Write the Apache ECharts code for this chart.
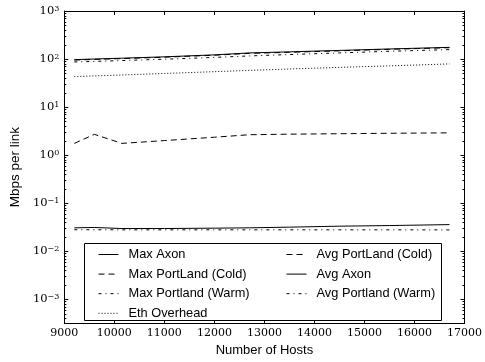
<!DOCTYPE html>
<html>
<head>
<meta charset="utf-8">
<script src="https://cdn.jsdelivr.net/npm/echarts@6/dist/echarts.min.js"></script>
<style>html,body{margin:0;padding:0;background:#fff}#c{width:485px;height:362px}</style>
</head>
<body>
<div id="c"></div>
<script>
var hosts = [9200, 9600, 10150, 11000, 12000, 12700, 13500, 14500, 15500, 16700];
var maxAxon = [97, 100, 104, 111, 122, 134, 141, 151, 162, 175];
var avgPortlandCold = [95, 98, 102, 109, 120, 131, 138, 148, 159, 172];
var maxPortlandWarm = [87, 89, 93, 99, 108, 116, 124, 134, 145, 157];
var ethOverhead = [43, 44.5, 46.5, 50, 54.5, 58, 62, 67, 72, 79];
var maxPortlandCold = [1.75, 2.7, 1.75, 2.0, 2.35, 2.65, 2.72, 2.78, 2.84, 2.9];
var avgAxon = [0.0305, 0.031, 0.0295, 0.0295, 0.030, 0.0305, 0.0315, 0.033, 0.034, 0.0356];
var avgPortlandWarm = [0.0279, 0.0278, 0.0277, 0.0277, 0.0277, 0.0277, 0.0277, 0.0277, 0.0277, 0.0276];
var minorTickValues = [];
for (var k = -4; k <= 2; k++) for (var m = 2; m <= 9; m++) {
  var v = m * Math.pow(10, k);
  if (v > Math.pow(10, -3.5) && v < 1000) minorTickValues.push(v);
}

function pairs(ys) { return hosts.map(function (x, i) { return [x, ys[i]]; }); }

var SERIF = 'DejaVu Serif';
var SANS = 'Liberation Sans';

function logLabel(v) {
  var e = Math.log10(v);
  if (Math.abs(e - Math.round(e)) > 1e-6) return '';
  e = Math.round(e);
  return '{b|10}{s|' + (e < 0 ? '\u2212' + (-e) : e) + '}';
}

function line(name, data, type, z) {
  return {
    name: name, type: 'line', data: pairs(data), symbol: 'none', z: z || 2,
    lineStyle: { color: '#000', width: 1, type: type },
    itemStyle: { color: '#000' },
    emphasis: { disabled: true }, animation: false
  };
}

var legendCommon = {
  orient: 'vertical', top: 243, itemWidth: 20, itemHeight: 12, itemGap: 6.6, z: 5,
  textStyle: { fontFamily: SANS, fontSize: 12.8, color: '#000', padding: [0, 0, 0, 5] },
  itemStyle: { color: 'rgba(0,0,0,0)', borderWidth: 0, opacity: 0 },
  lineStyle: { width: 1 },
  selectedMode: false
};

var chart = echarts.init(document.getElementById('c'));
var yCommon = {
  type: 'log', min: Math.pow(10, -3.5), max: 1000, logBase: 10,
  axisLine: { show: true, lineStyle: { color: '#000', width: 1 } },
  axisTick: { show: true, inside: true, length: 4, lineStyle: { color: '#000' } },
  splitLine: { show: false }
};
chart.setOption({
  animation: false,
  grid: { left: 59, right: 17, top: 11, bottom: 35 },
  xAxis: [{
    type: 'value', min: 9000, max: 17000, interval: 1000,
    name: 'Number of Hosts', nameLocation: 'middle', nameGap: 19,
    nameTextStyle: { fontFamily: SANS, fontSize: 13, color: '#000' },
    axisLine: { lineStyle: { color: '#000', width: 1 } },
    axisTick: { inside: true, length: 4, lineStyle: { color: '#000' } },
    axisLabel: { fontFamily: SERIF, fontSize: 11, color: '#000', margin: 5,
      formatter: function (v) { return String(v); } },
    splitLine: { show: false }
  }, {
    type: 'value', min: 9000, max: 17000, interval: 1000, position: 'top',
    axisLine: { lineStyle: { color: '#000', width: 1 } },
    axisTick: { inside: true, length: 4, lineStyle: { color: '#000' } },
    axisLabel: { show: false }, splitLine: { show: false }
  }],
  yAxis: [Object.assign({}, yCommon, {
    name: 'Mbps per link', nameLocation: 'middle', nameGap: 38,
    nameTextStyle: { fontFamily: SANS, fontSize: 13.5, color: '#000' },
    axisLabel: {
      margin: 5, formatter: logLabel,
      rich: {
        b: { fontFamily: SERIF, fontSize: 11.5, color: '#000' },
        s: { fontFamily: SERIF, fontSize: 8, color: '#000', verticalAlign: 'top', padding: [0, 0, 5, 0] }
      }
    }
  }), Object.assign({}, yCommon, { position: 'right', axisLabel: { show: false } })],
  legend: [Object.assign({}, legendCommon, {
    left: 93,
    data: ['Max Axon', 'Max PortLand (Cold)', 'Max Portland (Warm)', 'Eth Overhead']
  }), Object.assign({}, legendCommon, {
    left: 281,
    data: ['Avg PortLand (Cold)', 'Avg Axon', 'Avg Portland (Warm)']
  })],
  graphic: [{
    type: 'rect', z: 4, left: 84, top: 243,
    shape: { width: 357, height: 77 },
    style: { fill: '#fff', stroke: '#000', lineWidth: 1 }
  }],
  series: [
    line('Max Axon', maxAxon, 'solid', 3),
    line('Max PortLand (Cold)', maxPortlandCold, [6, 4]),
    line('Max Portland (Warm)', maxPortlandWarm, [3, 4, 1, 4]),
    line('Eth Overhead', ethOverhead, [1, 2]),
    line('Avg PortLand (Cold)', avgPortlandCold, [6, 4]),
    line('Avg Axon', avgAxon, 'solid'),
    line('Avg Portland (Warm)', avgPortlandWarm, [3, 4, 1, 4]),
    {
      type: 'custom', silent: true, animation: false, z: 3,
      data: minorTickValues.map(function (v) { return [9000, v]; }),
      renderItem: function (params, api) {
        var v = api.value(1);
        var l = api.coord([9000, v]);
        var r = api.coord([17000, v]);
        var st = { stroke: '#000', lineWidth: 1 };
        var y = Math.round(l[1]) + 0.5;
        return { type: 'group', children: [
          { type: 'line', shape: { x1: l[0], y1: y, x2: l[0] + 2, y2: y }, style: st },
          { type: 'line', shape: { x1: r[0], y1: y, x2: r[0] - 2, y2: y }, style: st }
        ]};
      }
    }
  ]
});
</script>
</body>
</html>
